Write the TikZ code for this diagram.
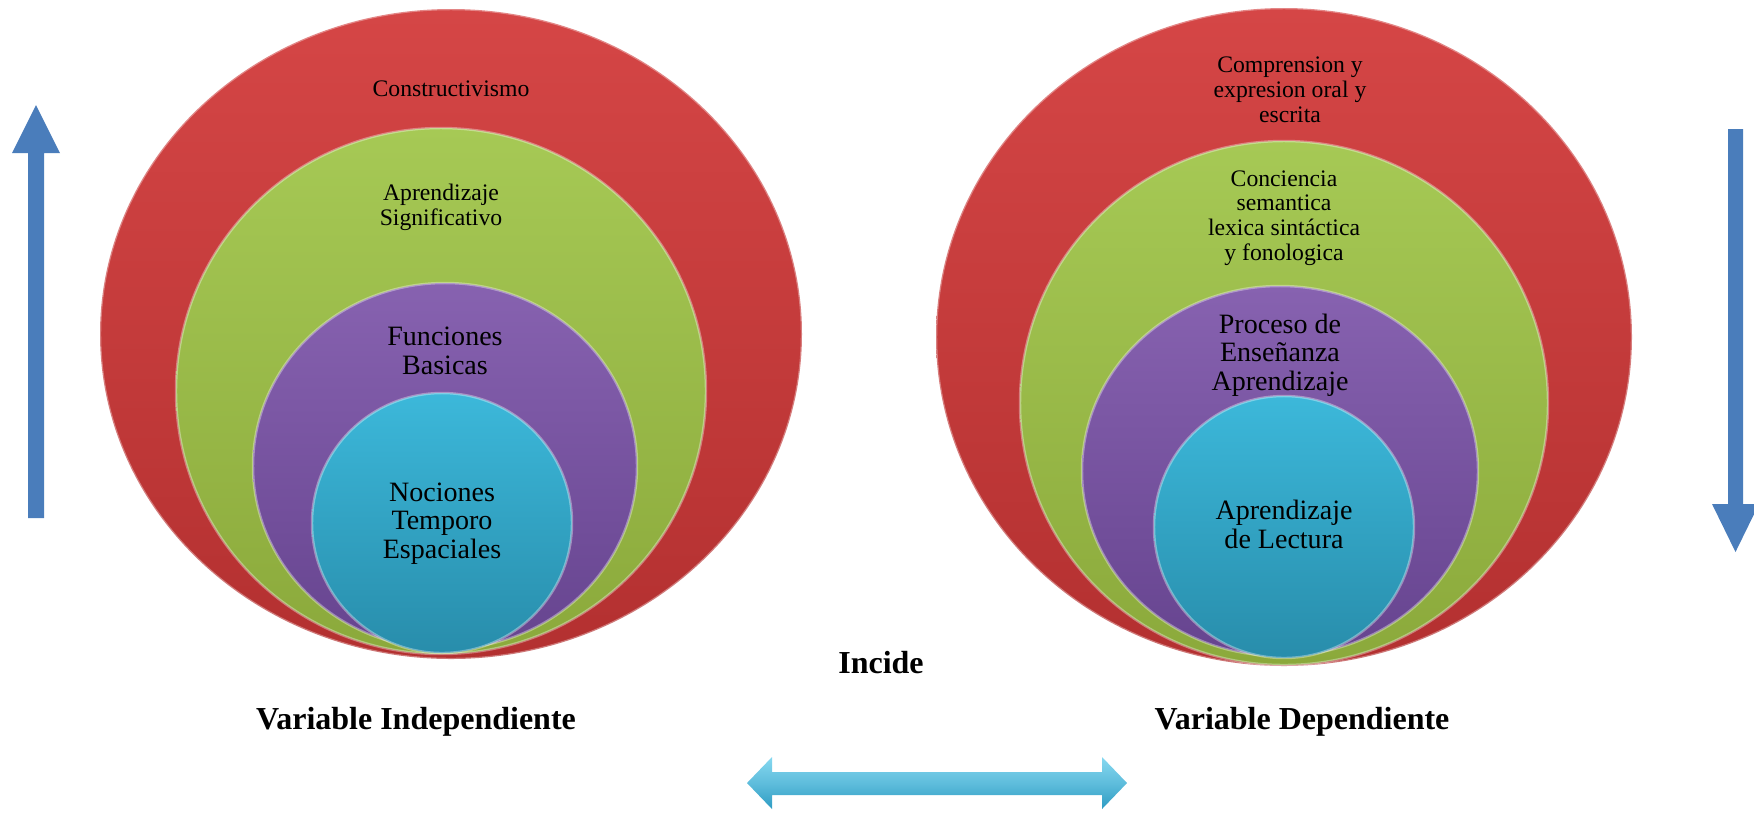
\documentclass[tikz,border=0pt]{standalone}
\usepackage{fontspec}
\setmainfont{Liberation Serif}
\definecolor{redT}{HTML}{D54646}
\definecolor{redB}{HTML}{B33030}
\definecolor{greenT}{HTML}{A6C955}
\definecolor{greenB}{HTML}{8BA93B}
\definecolor{purpleT}{HTML}{8762B0}
\definecolor{purpleB}{HTML}{66448F}
\definecolor{cyanT}{HTML}{3CB8DA}
\definecolor{cyanB}{HTML}{288DAB}
\definecolor{arrowblue}{HTML}{4A7DBB}
\definecolor{dblT}{HTML}{86D8F0}
\definecolor{dblB}{HTML}{2E9CC3}
\begin{document}
\begin{tikzpicture}[x=0.01cm,y=-0.01cm,
  small/.style={font=\fontsize{6.74}{6.97}\selectfont, align=center, anchor=base, inner sep=0pt},
  medium/.style={font=\fontsize{7.97}{8.1}\selectfont, align=center, anchor=base, inner sep=0pt},
  lab/.style={font=\fontsize{9.1}{10}\selectfont\bfseries, anchor=base, inner sep=0pt},
  ring/.style={draw=white, draw opacity=0.35, line width=0.7pt},
  bluearrow/.style={fill=arrowblue},
  dblarrow/.style={top color=dblT, bottom color=dblB, middle color=dblT!55!dblB},
]
\useasboundingbox (0,0) rectangle (1754,814);

% left nested ellipses
\path[top color=redT, bottom color=redB, ring] (451,334) ellipse [x radius=351, y radius=325];
\path[top color=greenT, bottom color=greenB, ring] (441,391) ellipse [x radius=265, y radius=263];
\path[top color=purpleT, bottom color=purpleB, ring] (445,466) ellipse [x radius=192, y radius=183];
\path[top color=cyanT, bottom color=cyanB, ring] (442,523) ellipse [x radius=130, y radius=130];

% right nested ellipses
\path[top color=redT, bottom color=redB, ring] (1284,337) ellipse [x radius=348, y radius=329];
\path[top color=greenT, bottom color=greenB, ring] (1284,403) ellipse [x radius=264, y radius=262];
\path[top color=purpleT, bottom color=purpleB, ring] (1280,471) ellipse [x radius=198, y radius=185];
\path[top color=cyanT, bottom color=cyanB, ring] (1284,527) ellipse [x radius=130, y radius=131];

% texts left (anchor = baseline of last line)
\node[small] (constr) at (451,96) {Constructivismo};
\node[small] (aprsig) at (441,225) {Aprendizaje\\Significativo};
\node[medium] (funbas) at (445,374) {Funciones\\Basicas};
\node[medium] (nocion) at (442,558) {Nociones\\Temporo\\Espaciales};

% texts right
\node[small] (compr) at (1290,122) {Comprension y\\expresion oral y\\escrita};
\node[small] (concie) at (1284,260) {Conciencia\\semantica\\lexica sintáctica\\y fonologica};
\node[medium] (proceso) at (1280,390) {Proceso de\\Enseñanza\\Aprendizaje};
\node[medium] (aprlec) at (1284,548) {Aprendizaje\\de Lectura};

% labels
\node[lab] (incide) at (881,673) {Incide};
\node[lab] (vind) at (416,729) {Variable Independiente};
\node[lab] (vdep) at (1302,729) {Variable Dependiente};

% block arrows
\fill[bluearrow] (28,518) -- (28,153) -- (12,153) -- (36,105) -- (60,153) -- (44,153) -- (44,518) -- cycle;
\fill[bluearrow] (1728,129) -- (1728,504) -- (1712,504) -- (1735.5,552) -- (1759,504) -- (1743,504) -- (1743,129) -- cycle;
\path[dblarrow] (747,783) -- (772,757) -- (772,772) -- (1102,772) -- (1102,757) -- (1127,783) -- (1102,809) -- (1102,795) -- (772,795) -- (772,809) -- cycle;
\end{tikzpicture}
\end{document}
